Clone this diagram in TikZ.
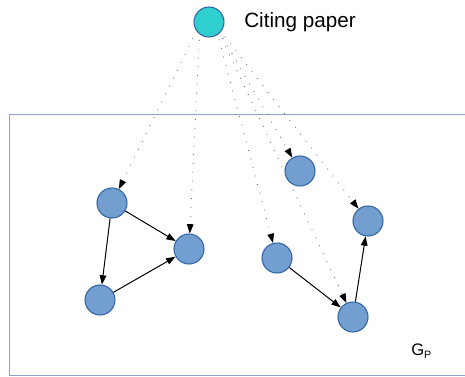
\documentclass[tikz,border=0pt]{standalone}
\usepackage{fontspec}
\setmainfont{Liberation Sans}
\usetikzlibrary{arrows.meta}
\definecolor{nodefill}{HTML}{729FCF}
\definecolor{nodeline}{HTML}{3465A4}
\definecolor{citefill}{HTML}{2FCFCF}
\definecolor{boxline}{HTML}{8AA4CC}
\definecolor{dotgray}{HTML}{666666}
\tikzset{
  gnode/.style={circle, draw=nodeline, fill=nodefill, line width=0.8pt, minimum size=22.5pt, inner sep=0pt},
  citenode/.style={circle, draw=nodeline, fill=citefill, line width=0.8pt, minimum size=22.5pt, inner sep=0pt},
  edge/.style={draw=black, line width=0.75pt, -{Triangle[length=7pt,width=5pt]}},
  dotedge/.style={draw=dotgray, line width=0.65pt, dash pattern=on 0.6pt off 6pt, -{Triangle[length=7pt,width=5pt,color=black,fill=black]}, shorten <=12pt},
}
\begin{document}
\begin{tikzpicture}[x=0.75pt,y=-0.75pt]
\useasboundingbox (0,0) rectangle (465,376);
\draw[boxline, line width=1.1pt] (9.5,375.5) rectangle (475,114.5);
% nodes
\node[citenode] (cite) at (209,22) {};
\node[anchor=base west, font=\fontsize{15.5pt}{18pt}\selectfont, inner sep=0pt] (lab) at (244,27) {Citing paper};
\node[gnode] (A) at (112,203) {};
\node[gnode] (B) at (189,249) {};
\node[gnode] (C) at (100,300) {};
\node[gnode] (D) at (300,171) {};
\node[gnode] (E) at (368,221) {};
\node[gnode] (F) at (277,258) {};
\node[gnode] (G) at (353,317) {};
\node[anchor=base west, inner sep=0pt, font=\fontsize{12.5pt}{15pt}\selectfont] (gp) at (411,355) {G\raisebox{-0.45ex}{\fontsize{8pt}{9pt}\selectfont P}};
% dotted citation links
\coordinate (cl) at (200,24);
\coordinate (cr) at (215,24);
\draw[dotedge] (cl) -- (A);
\draw[dotedge] (cl) -- (B);
\draw[dotedge] (cr) -- (D);
\draw[dotedge] (cr) -- (E);
\draw[dotedge] (cr) -- (F);
\draw[dotedge] (cr) -- (G);
% solid edges
\draw[edge] (A) -- (B);
\draw[edge] (A) -- (C);
\draw[edge] (C) -- (B);
\draw[edge] (F) -- (G);
\draw[edge] (G) -- (E);
\end{tikzpicture}
\end{document}
